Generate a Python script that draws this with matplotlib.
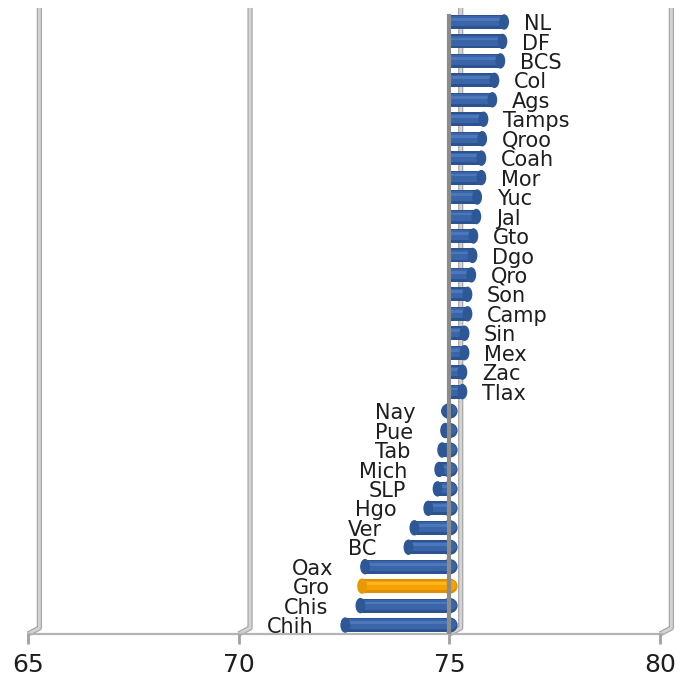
import matplotlib.pyplot as plt
from matplotlib.patches import Ellipse


BASE = 75.0

states = ["NL", "DF", "BCS", "Col", "Ags", "Tamps", "Qroo", "Coah", "Mor", "Yuc",
          "Jal", "Gto", "Dgo", "Qro", "Son", "Camp", "Sin", "Mex", "Zac", "Tlax",
          "Nay", "Pue", "Tab", "Mich", "SLP", "Hgo", "Ver", "BC", "Oax", "Gro",
          "Chis", "Chih"]
values = [76.30, 76.26, 76.21, 76.07, 76.02, 75.81, 75.78, 75.76, 75.76, 75.66,
          75.64, 75.57, 75.55, 75.52, 75.43, 75.43, 75.36, 75.36, 75.31, 75.31,
          74.97, 74.90, 74.83, 74.76, 74.72, 74.50, 74.17, 74.03, 73.00, 72.93,
          72.89, 72.53]
highlight = "Gro"

x_ticks = [65, 70, 75, 80]

BLUE = {"base": "#2C5390", "mid": "#3A66A9", "light": "#4A78BB", "cap": "#2E5795"}
ORANGE = {"base": "#DE9000", "mid": "#F5A300", "light": "#FFB422", "cap": "#E89800"}

fig = plt.figure(figsize=(6.87, 6.83), dpi=100)
ax = fig.add_axes([28 / 687, 49 / 683, 632 / 687, 634 / 683])
ax.set_xlim(65, 80)
ax.set_ylim(31.46, -1.13)

# back wall gridlines (3d look: shifted right, diagonal down to the floor)
depth = 0.27
for t in x_ticks:
    xs = [t + depth, t + depth, t]
    ys = [-0.72, 31.15, 31.46]
    ax.plot(xs, ys, color="#A8A8A8", lw=3.8, zorder=1, clip_on=False,
            solid_capstyle="butt")
    ax.plot(xs, ys, color="#D4D4D4", lw=2.0, zorder=1.1, clip_on=False,
            solid_capstyle="butt")

# floor
ax.plot([65, 80 + depth * 0.3], [31.46, 31.46], color="#B4B4B4", lw=1.6,
        zorder=1.2, clip_on=False)

for i, (name, v) in enumerate(zip(states, values)):
    c = ORANGE if name == highlight else BLUE
    left = min(BASE, v)
    width = abs(v - BASE)
    if v < BASE:
        ax.add_patch(Ellipse((BASE, i), 0.36, 0.72, color=c["base"], zorder=2.5))
        ax.add_patch(Ellipse((BASE, i - 0.04), 0.30, 0.50, color=c["mid"], zorder=2.6))
    ax.barh(i, width, left=left, height=0.72, color=c["base"], zorder=3)
    ax.barh(i - 0.04, width, left=left, height=0.50, color=c["mid"], zorder=3.1)
    ax.barh(i - 0.13, width, left=left, height=0.14, color=c["light"], zorder=3.2)
    ax.add_patch(Ellipse((v, i), 0.20, 0.72, color=c["cap"], zorder=3.3))

    if v >= BASE:
        ax.annotate(name, (v, i), xytext=(14, -1.5), textcoords="offset points",
                    ha="left", va="center", fontsize=15, color="#1E1E1E", zorder=6)
    else:
        ax.annotate(name, (v, i), xytext=(-23, -1.5), textcoords="offset points",
                    ha="right", va="center", fontsize=15, color="#1E1E1E", zorder=6)

# front vertical axis at 75
ax.plot([BASE, BASE], [-0.43, 31.46], color="#8C8C8C", lw=3.0, zorder=5,
        solid_capstyle="butt")

for s in ax.spines.values():
    s.set_visible(False)
ax.set_yticks([])
ax.set_xticks(x_ticks)
ax.set_xticklabels([str(t) for t in x_ticks])
ax.tick_params(axis="x", length=7, width=2, color="#A0A0A0", pad=7,
               labelsize=18, labelcolor="#1E1E1E")

fig.savefig("out.png", dpi=100)
